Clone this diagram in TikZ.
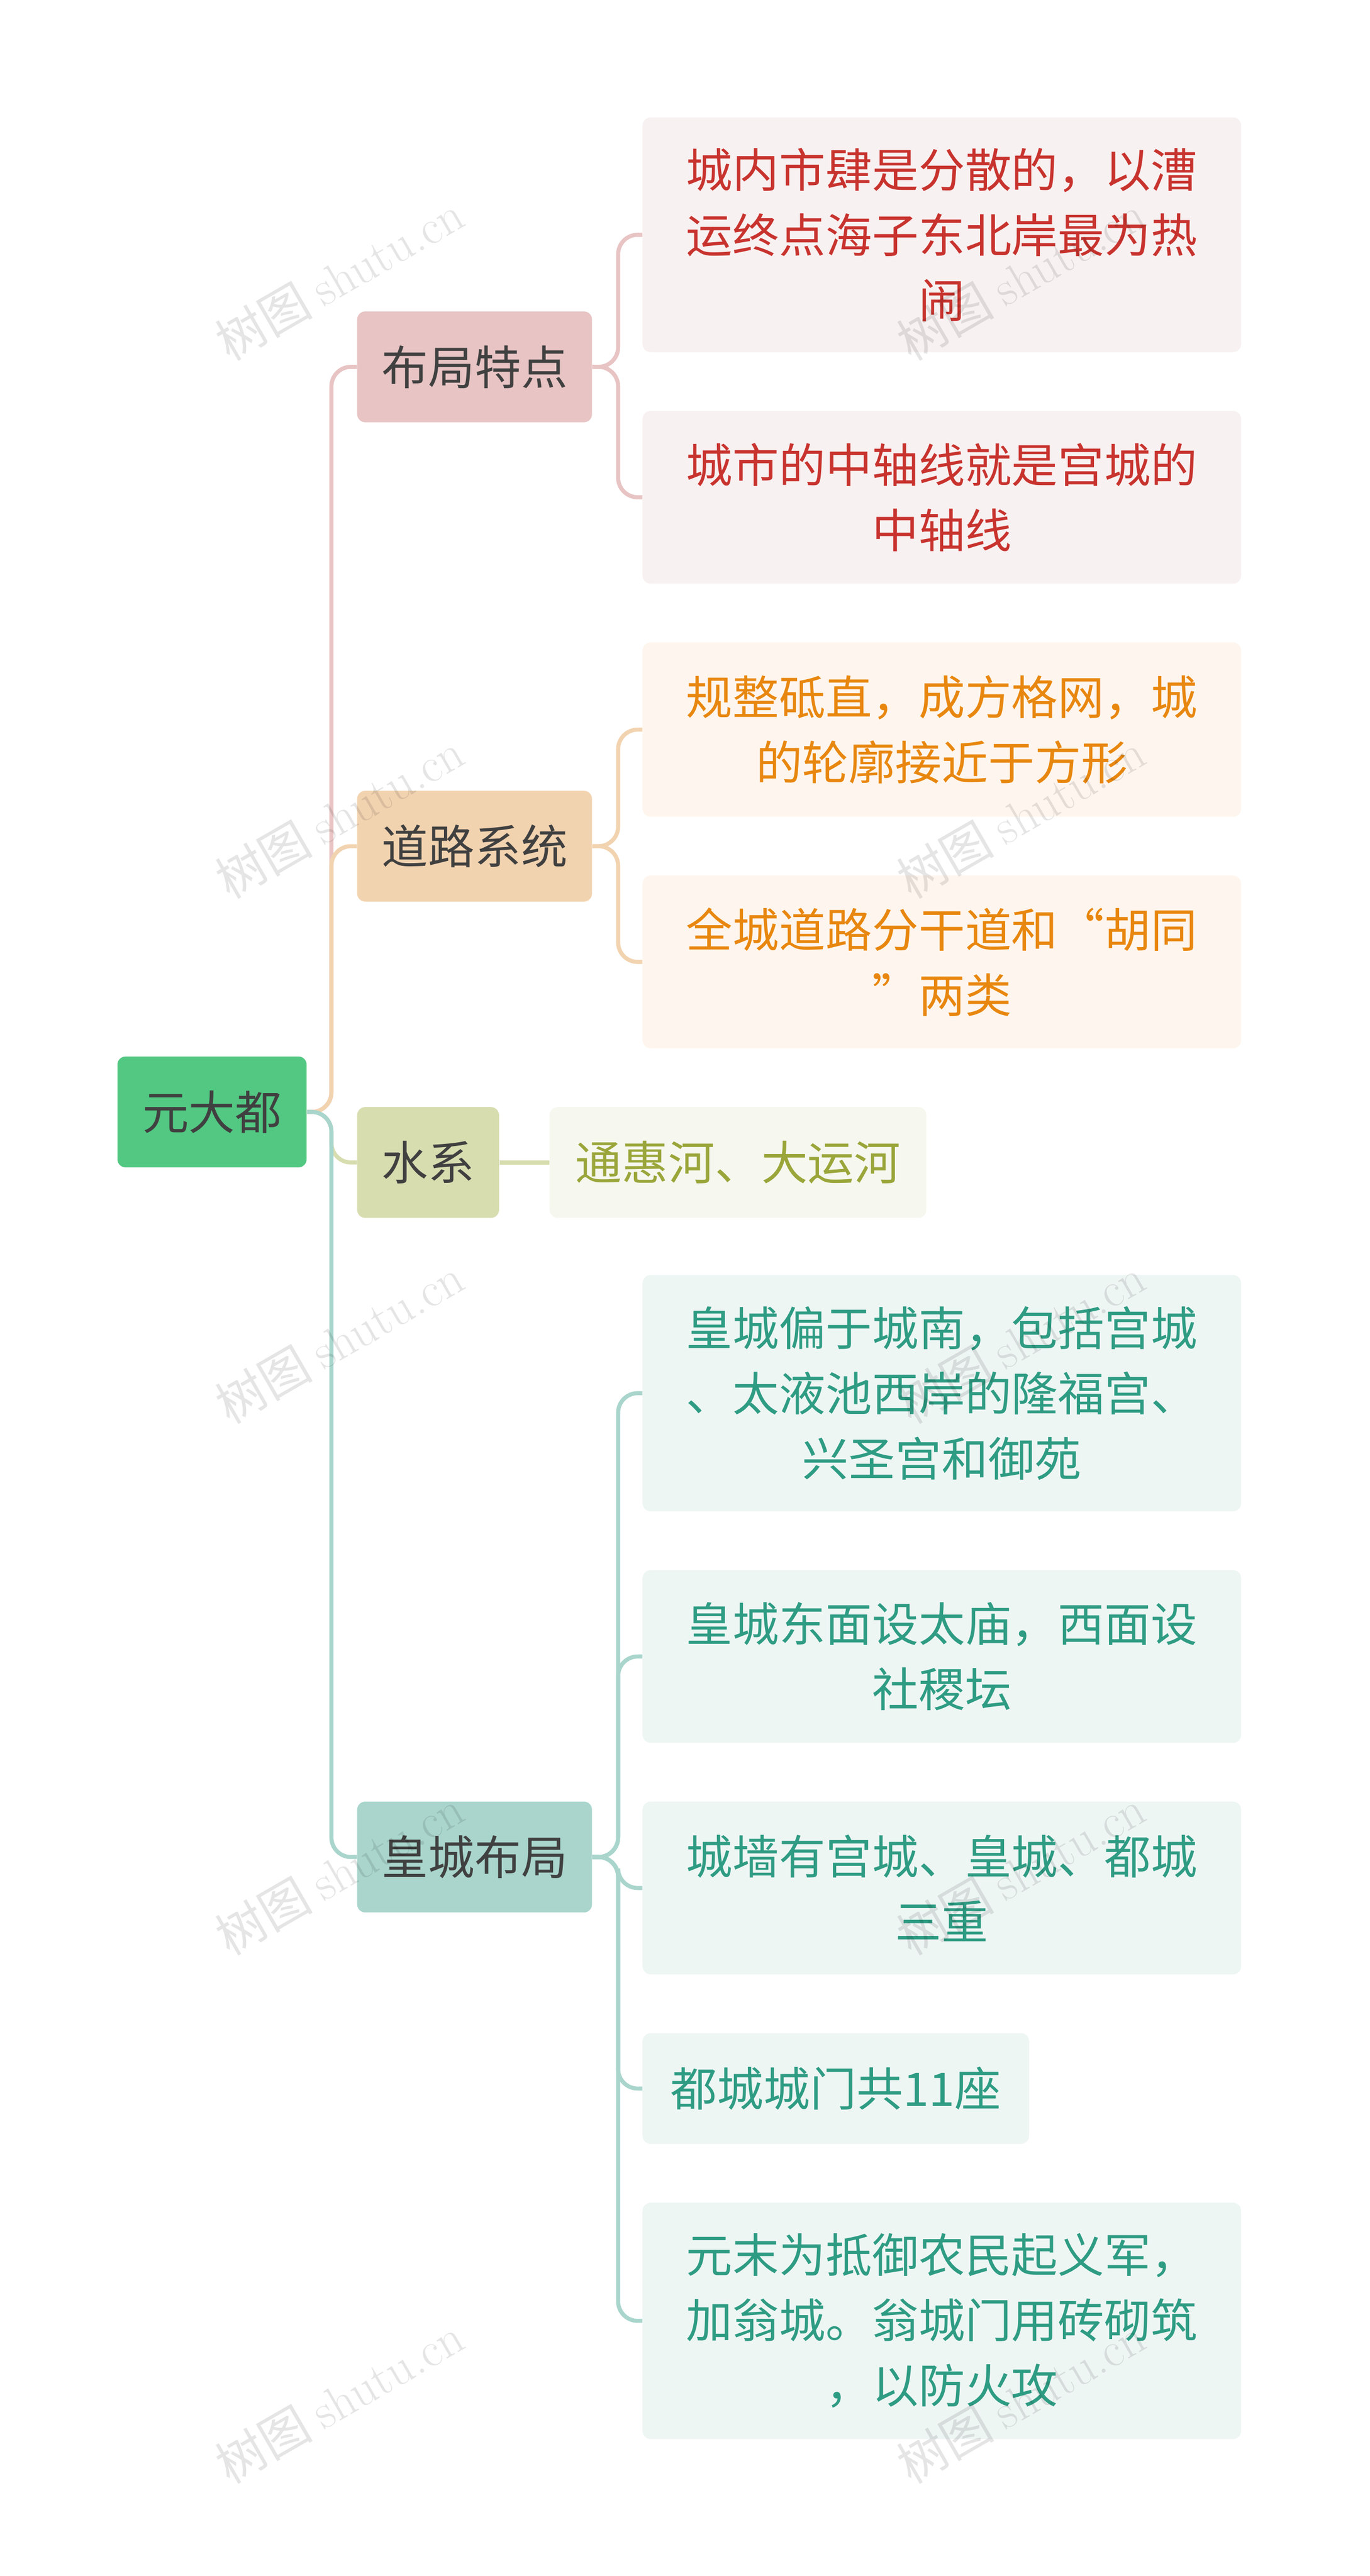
\documentclass[tikz,border=0pt]{standalone}
\usepackage{fontspec}
\newfontfamily\cjk{Noto Sans CJK SC}
\definecolor{rootc}{HTML}{52C882}
\definecolor{redb}{HTML}{E8C4C4}\definecolor{redl}{HTML}{F8F1F1}\definecolor{redt}{HTML}{C8332E}
\definecolor{orab}{HTML}{F2D3B0}\definecolor{oral}{HTML}{FEF6EE}\definecolor{orat}{HTML}{E8870F}
\definecolor{olib}{HTML}{D8DDB0}\definecolor{olil}{HTML}{F6F7EE}\definecolor{olit}{HTML}{9AA63A}
\definecolor{teab}{HTML}{A9D5CC}\definecolor{teal}{HTML}{EEF6F4}\definecolor{teat}{HTML}{2E9C83}
\tikzset{
  box/.style={rounded corners=5pt, inner sep=0pt, align=center, font=\cjk\fontsize{28.5}{40}\selectfont},
  branch/.style={box, minimum height=68pt, text=black!75},
  leaf/.style={box, minimum width=367pt, text width=340pt},
  link/.style={line width=2.5pt, rounded corners=12pt},
  wmark/.style={text=black, opacity=0.1, rotate=30, font=\fontsize{30}{30}\selectfont}
}
\begin{document}
\begin{tikzpicture}[x=1pt,y=1pt,yscale=-1]
\useasboundingbox (0,0) rectangle (840,1580);
%root and branches
\node[box, fill=rootc, minimum width=116pt, minimum height=68pt, text=black!75] (root) at (130,682) {元大都};
\node[branch, fill=redb, minimum width=144pt] (layout) at (291,225) {布局特点};
\node[branch, fill=orab, minimum width=144pt] (road) at (291,519) {道路系统};
\node[branch, fill=olib, minimum width=87pt] (water) at (262.5,713) {水系};
\node[branch, fill=teab, minimum width=144pt] (palace) at (291,1139) {皇城布局};
%leaves
\node[leaf, fill=redl, text=redt, minimum height=144pt] (l1) at (577.5,144) {城内市肆是分散的，以漕\\运终点海子东北岸最为热\\闹};
\node[leaf, fill=redl, text=redt, minimum height=106pt] (l2) at (577.5,305) {城市的中轴线就是宫城的\\中轴线};
\node[leaf, fill=oral, text=orat, minimum height=107pt] (r1) at (577.5,447.5) {规整砥直，成方格网，城\\的轮廓接近于方形};
\node[leaf, fill=oral, text=orat, minimum height=106pt] (r2) at (577.5,590) {全城道路分干道和“胡同\\”两类};
\node[box, fill=olil, text=olit, minimum width=231pt, minimum height=68pt] (w1) at (452.5,713) {通惠河、大运河};
\node[leaf, fill=teal, text=teat, minimum height=145pt] (h1) at (577.5,854.5) {皇城偏于城南，包括宫城\\、太液池西岸的隆福宫、\\兴圣宫和御苑};
\node[leaf, fill=teal, text=teat, minimum height=106pt] (h2) at (577.5,1016) {皇城东面设太庙，西面设\\社稷坛};
\node[leaf, fill=teal, text=teat, minimum height=106pt] (h3) at (577.5,1158) {城墙有宫城、皇城、都城\\三重};
\node[box, fill=teal, text=teat, minimum width=237pt, minimum height=68pt] (h4) at (512.5,1281) {都城城门共11座};
\node[leaf, fill=teal, text=teat, minimum height=145pt] (h5) at (577.5,1423.5) {元末为抵御农民起义军，\\加翁城。翁城门用砖砌筑\\，以防火攻};
%connectors
\draw[link, redb] (root.east) -- ++(15,0) |- (layout.west);
\draw[link, orab] (root.east) -- ++(15,0) |- (road.west);
\draw[link, olib] (root.east) -- ++(15,0) |- (water.west);
\draw[link, teab] (root.east) -- ++(15,0) |- (palace.west);
\foreach \n in {l1,l2} \draw[link, redb] (layout.east) -- (379,225) |- (\n.west);
\foreach \n in {r1,r2} \draw[link, orab] (road.east) -- (379,519) |- (\n.west);
\draw[link, olib] (water.east) -- (w1.west);
\foreach \n in {h1,h2,h3,h4,h5} \draw[link, teab] (palace.east) -- (379,1139) |- (\n.west);
%watermarks
\foreach \y in {170,500,822,1148,1472}{
  \node[wmark] at (208,\y) {\cjk 树图 \rmfamily shutu.cn};
  \node[wmark] at (626,\y) {\cjk 树图 \rmfamily shutu.cn};
}
\end{tikzpicture}
\end{document}
